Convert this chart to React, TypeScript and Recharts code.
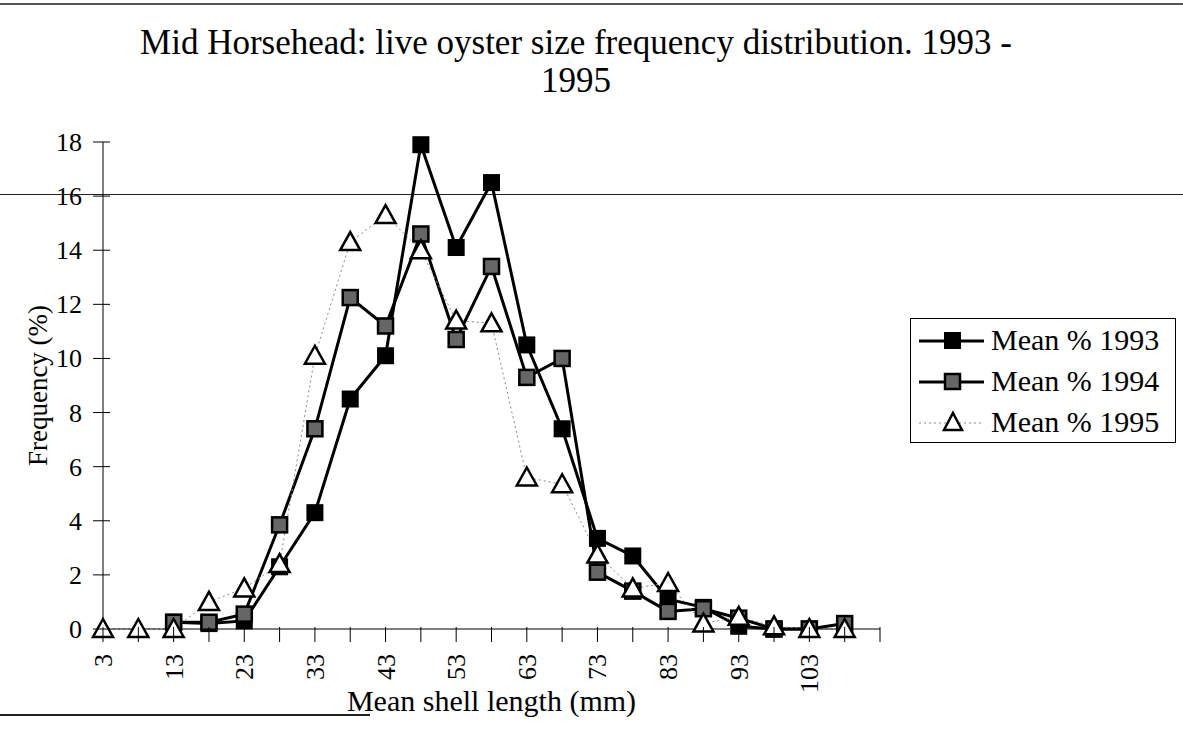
import { LineChart, Line, XAxis, YAxis, Legend } from 'recharts'

const sizes = [3, 8, 13, 18, 23, 28, 33, 38, 43, 48, 53, 58, 63, 68, 73, 78, 83, 88, 93, 98, 103, 108]
const mean1993 = [null, null, 0.25, 0.2, 0.3, 2.3, 4.3, 8.5, 10.1, 17.9, 14.1, 16.5, 10.5, 7.4, 3.35, 2.7, 1.1, 0.8, 0.1, 0, 0, null]
const mean1994 = [null, null, 0.25, 0.25, 0.55, 3.85, 7.4, 12.25, 11.2, 14.6, 10.7, 13.4, 9.3, 10.0, 2.1, 1.4, 0.65, 0.75, 0.4, 0, 0, 0.2]
const mean1995 = [0, 0, 0, 1.0, 1.5, 2.4, 10.1, 14.3, 15.3, 14.0, 11.4, 11.3, 5.6, 5.35, 2.75, 1.5, 1.7, 0.2, 0.45, 0.1, 0, 0]

const xTicks = [3, 8, 13, 18, 23, 28, 33, 38, 43, 48, 53, 58, 63, 68, 73, 78, 83, 88, 93, 98, 103, 108, 113]
const xLabels = [3, 13, 23, 33, 43, 53, 63, 73, 83, 93, 103]
const yTicks = [0, 2, 4, 6, 8, 10, 12, 14, 16, 18]

const data = sizes.map((s, i) => ({ size: s, y1993: mean1993[i], y1994: mean1994[i], y1995: mean1995[i] }))

const FONT = '"Liberation Serif", "Times New Roman", serif'
const SQ = 17

function BlackSquare(props: any) {
  const { cx, cy, value, index } = props
  if (value == null || cx == null || cy == null) return <g key={`b${index}`} />
  return <rect key={`b${index}`} x={cx - SQ / 2} y={cy - SQ / 2} width={SQ} height={SQ} fill="#000" />
}

function GreySquare(props: any) {
  const { cx, cy, value, index } = props
  if (value == null || cx == null || cy == null) return <g key={`g${index}`} />
  return <rect key={`g${index}`} x={cx - SQ / 2 + 1} y={cy - SQ / 2 + 1} width={SQ - 2} height={SQ - 2} fill="#666" stroke="#000" strokeWidth={2.5} />
}

function Triangle(props: any) {
  const { cx, cy, value, index } = props
  if (value == null || cx == null || cy == null) return <g key={`t${index}`} />
  return (
    <path key={`t${index}`} d={`M${cx},${cy - 10} L${cx + 10},${cy + 8} L${cx - 10},${cy + 8} Z`}
      fill="#fff" stroke="#000" strokeWidth={2.5} strokeLinejoin="miter" />
  )
}

function XTick(props: any) {
  const { x, y, payload } = props
  const v = payload.value
  return (
    <g>
      <line x1={x} x2={x} y1={y - 10} y2={y + 5} stroke="#000" strokeWidth={1} />
      {xLabels.includes(v) && (
        <text x={x} y={y + 17} transform={`rotate(-90 ${x} ${y + 17})`} textAnchor="end" dy={9}
          fontFamily={FONT} fontSize={26} fill="#000">{v}</text>
      )}
    </g>
  )
}

function YTick(props: any) {
  const { x, y, payload } = props
  return (
    <g>
      <line x1={x - 2} x2={x + 15} y1={y} y2={y} stroke="#000" strokeWidth={1} />
      <text x={x - 13} y={y} dy={9} textAnchor="end" fontFamily={FONT} fontSize={26} fill="#000">{payload.value}</text>
    </g>
  )
}

const legendItems = [
  { label: 'Mean % 1993', kind: 'black' },
  { label: 'Mean % 1994', kind: 'grey' },
  { label: 'Mean % 1995', kind: 'tri' },
]

function LegendBox() {
  return (
    <div style={{ border: '1px solid #000', width: 266, height: 125, background: '#fff', boxSizing: 'border-box', paddingTop: 0 }}>
      {legendItems.map((it) => (
        <div key={it.label} style={{ display: 'flex', alignItems: 'center', height: 41 }}>
          <svg width={80} height={30} style={{ flex: 'none' }}>
            {it.kind === 'tri'
              ? <line x1={8} x2={73} y1={16} y2={16} stroke="#888" strokeWidth={1} strokeDasharray="2 3" />
              : <line x1={8} x2={73} y1={16} y2={16} stroke="#000" strokeWidth={3} />}
            {it.kind === 'black' && <rect x={33} y={7} width={17} height={17} fill="#000" />}
            {it.kind === 'grey' && <rect x={34} y={8} width={15} height={15} fill="#666" stroke="#000" strokeWidth={2.5} />}
            {it.kind === 'tri' && <path d="M42,6 L51,23 L33,23 Z" fill="#fff" stroke="#000" strokeWidth={2.5} />}
          </svg>
          <span style={{ fontFamily: FONT, fontSize: 30, color: '#000', whiteSpace: 'nowrap' }}>{it.label}</span>
        </div>
      ))}
    </div>
  )
}

export default function App() {
  return (
    <div style={{ position: 'absolute', left: 0, top: 0, width: 1183, height: 746, background: '#fff', overflow: 'hidden' }}>
      <div style={{ position: 'absolute', left: 0, top: 3, width: 1183, height: 2, background: '#555' }} />
      <div style={{ position: 'absolute', left: 0, top: 194, width: 1183, height: 1, background: '#222' }} />
      <div style={{ position: 'absolute', left: 0, top: 714, width: 370, height: 2, background: '#222' }} />
      <div style={{ position: 'absolute', left: 0, top: 24, width: 1152, textAlign: 'center', fontFamily: FONT, fontSize: 35, lineHeight: '38px', color: '#000' }}>
        Mid Horsehead: live oyster size frequency distribution. 1993 -<br />1995
      </div>
      <div style={{ position: 'absolute', left: 0, top: 0 }}>
        <LineChart width={1183} height={746} data={data} margin={{ top: 142, right: 303, bottom: 87, left: 43 }}>
          <XAxis dataKey="size" type="number" domain={[3, 113]} ticks={xTicks} interval={0}
            axisLine={{ stroke: '#000', strokeWidth: 1 }} tickLine={false} height={30} tick={<XTick />}
            label={{ value: 'Mean shell length (mm)', position: 'insideBottom', offset: -52, fontFamily: FONT, fontSize: 30, fill: '#000' }} />
          <YAxis domain={[0, 18]} ticks={yTicks} interval={0} width={60}
            axisLine={{ stroke: '#000', strokeWidth: 1 }} tickLine={false} tick={<YTick />}
            label={{ value: 'Frequency (%)', angle: -90, position: 'insideLeft', offset: -6, fontFamily: FONT, fontSize: 27, fill: '#000', style: { textAnchor: 'middle' } }} />
          <Legend layout="horizontal" verticalAlign="middle" wrapperStyle={{ left: 910, top: 318, width: 266 }} content={() => <LegendBox />} />
          <Line dataKey="y1993" stroke="#000" strokeWidth={3} dot={BlackSquare} isAnimationActive={false} connectNulls={false} legendType="none" />
          <Line dataKey="y1994" stroke="#000" strokeWidth={3} dot={GreySquare} isAnimationActive={false} connectNulls={false} legendType="none" />
          <Line dataKey="y1995" stroke="#888" strokeWidth={1} strokeDasharray="2 3" dot={Triangle} isAnimationActive={false} legendType="none" />
        </LineChart>
      </div>
    </div>
  )
}
